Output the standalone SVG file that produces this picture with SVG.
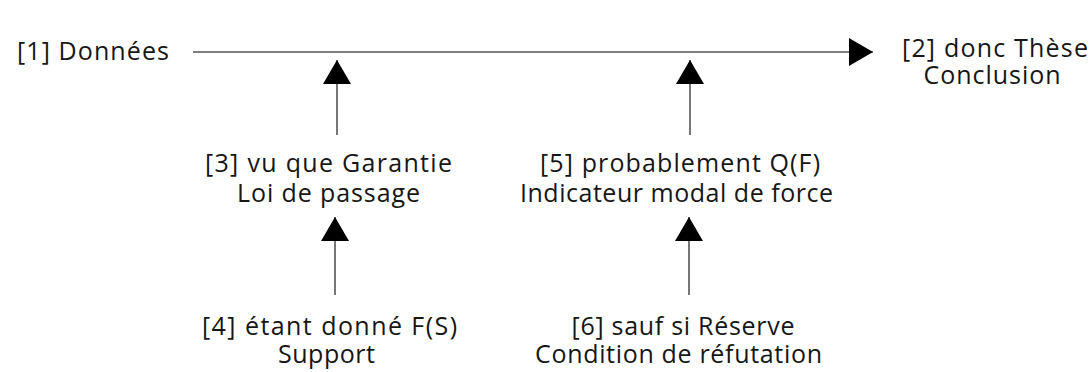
<svg xmlns="http://www.w3.org/2000/svg" width="1090" height="372" viewBox="0 0 1090 372">
  <style>
    .lbl { font-family: "Open Sans", "Liberation Sans", sans-serif; font-size: 25px; fill: #161616; }
    .mid { text-anchor: middle; }
    .conn { stroke: #555; stroke-width: 1.6; fill: none; marker-end: url(#head); }
  </style>
  <defs>
    <marker id="head" markerUnits="userSpaceOnUse" viewBox="0 0 24 28" refX="24" refY="14" markerWidth="24" markerHeight="28" orient="auto">
      <path d="M0,0 L24,14 L0,28 Z" fill="#000"/>
    </marker>
  </defs>
  <rect width="1090" height="372" fill="#fff"/>
  <g id="connectors">
    <line class="conn" x1="193" y1="52" x2="873" y2="52"/>
    <line class="conn" x1="337" y1="135" x2="337" y2="60"/>
    <line class="conn" x1="690" y1="135" x2="690" y2="60"/>
    <line class="conn" x1="335" y1="295" x2="335" y2="217"/>
    <line class="conn" x1="689" y1="295" x2="689" y2="217"/>
  </g>
  <g id="n1">
    <text class="lbl" x="17" y="60" textLength="152" lengthAdjust="spacing">[1] Données</text>
  </g>
  <g id="n2">
    <text class="lbl mid" x="995" y="57" textLength="186" lengthAdjust="spacing">[2] donc Thèse</text>
    <text class="lbl mid" x="992" y="84" textLength="137" lengthAdjust="spacing">Conclusion</text>
  </g>
  <g id="n3">
    <text class="lbl mid" x="328.5" y="172" textLength="247" lengthAdjust="spacing">[3] vu que Garantie</text>
    <text class="lbl mid" x="328.5" y="202" textLength="183" lengthAdjust="spacing">Loi de passage</text>
  </g>
  <g id="n4">
    <text class="lbl mid" x="329.5" y="335" textLength="255" lengthAdjust="spacing">[4] étant donné F(S)</text>
    <text class="lbl mid" x="326.5" y="363" textLength="97" lengthAdjust="spacing">Support</text>
  </g>
  <g id="n5">
    <text class="lbl mid" x="680" y="172" textLength="280" lengthAdjust="spacing">[5] probablement Q(F)</text>
    <text class="lbl mid" x="676.5" y="202" textLength="313" lengthAdjust="spacing">Indicateur modal de force</text>
  </g>
  <g id="n6">
    <text class="lbl mid" x="683" y="335" textLength="223" lengthAdjust="spacing">[6] sauf si Réserve</text>
    <text class="lbl mid" x="678.5" y="363" textLength="287" lengthAdjust="spacing">Condition de réfutation</text>
  </g>
</svg>
